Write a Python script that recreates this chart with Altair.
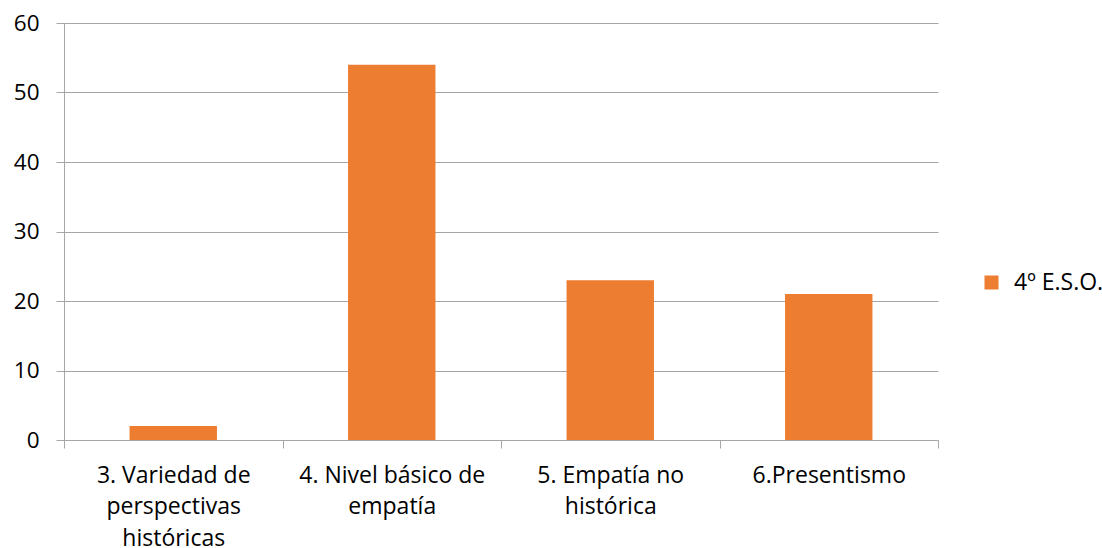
import altair as alt
import pandas as pd

# Categories (with manual line breaks for the axis labels) and values
categories = [
    "3. Variedad de\nperspectivas\nhistóricas",
    "4. Nivel básico de\nempatía",
    "5. Empatía no\nhistórica",
    "6.Presentismo",
]
values = [2, 54, 23, 21]
series_name = "4º E.S.O."

df = pd.DataFrame({"categoria": categories, "valor": values, "serie": series_name})

FONT = "Open Sans"
GRID = "#A6A6A6"
ORANGE = "#ED7D31"

bars = alt.Chart(df).mark_bar(width=alt.RelativeBandSize(0.4), color=ORANGE).encode(
    x=alt.X(
        "categoria:N",
        sort=categories,
        scale=alt.Scale(paddingInner=0, paddingOuter=0),
        axis=alt.Axis(
            title=None,
            labelAngle=0,
            labelExpr="split(datum.label, '\\n')",
            tickBand="extent",
            tickSize=8,
            tickColor=GRID,
            domainColor=GRID,
            labelFontSize=23,
            labelFont=FONT,
            labelColor="#000000",
            labelLineHeight=31.5,
            labelPadding=16,
            labelBaseline="top",
            grid=False,
            labelLimit=300,
        ),
    ),
    y=alt.Y(
        "valor:Q",
        scale=alt.Scale(domain=[0, 60], nice=False),
        axis=alt.Axis(
            title=None,
            values=[0, 10, 20, 30, 40, 50, 60],
            tickSize=8,
            tickColor=GRID,
            domainColor=GRID,
            gridColor=GRID,
            grid=True,
            labelFontSize=22.5,
            labelFont=FONT,
            labelColor="#000000",
            labelPadding=17,
        ),
    ),
    color=alt.Color(
        "serie:N",
        scale=alt.Scale(range=[ORANGE]),
        legend=alt.Legend(
            title=None,
            orient="none",
            legendX=916,
            legendY=248,
            symbolType="square",
            symbolSize=196,
            symbolStrokeWidth=0,
            symbolFillColor=ORANGE,
            labelFontSize=23,
            labelFont=FONT,
            labelColor="#000000",
            labelOffset=11,
            padding=0,
        ),
    ),
)

chart = bars.properties(
    width=874,
    height=417,
    padding={"left": 64, "top": 23, "right": 164, "bottom": 108},
    autosize=alt.AutoSizeParams(type="none"),
    background="white",
).configure_view(stroke=None).configure_axis(gridWidth=1, domainWidth=1, tickWidth=1)

chart.save("out.html", embed_options={"renderer": "svg", "actions": False})
